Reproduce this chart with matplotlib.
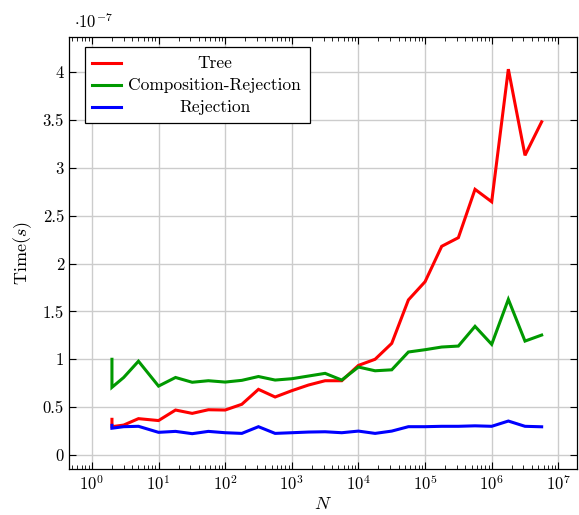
import matplotlib
matplotlib.use("Agg")
import matplotlib.pyplot as plt
import matplotlib.patches as patches
from matplotlib.ticker import (FixedLocator, LogLocator, FuncFormatter,
                               MultipleLocator, NullFormatter)

plt.rcParams['font.family'] = 'serif'
plt.rcParams['font.serif'] = ['cmr10']
plt.rcParams['mathtext.fontset'] = 'cm'
plt.rcParams['axes.formatter.use_mathtext'] = True

# problem size N (two runs at N=2, then 10^(k/4))
n_values = [2, 2, 3, 5, 10, 18, 32, 56, 100, 178, 316, 562, 1000, 1778, 3162, 5623,
            10000, 17783, 31623, 56234, 100000, 177828, 316228, 562341, 1000000,
            1778279, 3162278, 5623413]

# time in units of 1e-7 s
tree = [0.373, 0.296, 0.313, 0.38, 0.36, 0.47, 0.435, 0.473, 0.47, 0.53, 0.686, 0.606,
        0.672, 0.731, 0.776, 0.776, 0.936, 1.0, 1.166, 1.62, 1.81, 2.18, 2.27, 2.775,
        2.645, 4.03, 3.13, 3.48]
comp_rej = [1.0, 0.707, 0.81, 0.98, 0.72, 0.81, 0.76, 0.776, 0.762, 0.78, 0.82, 0.783,
            0.797, 0.825, 0.853, 0.783, 0.919, 0.88, 0.89, 1.076, 1.10, 1.128, 1.138,
            1.344, 1.156, 1.626, 1.19, 1.253]
rejection = [0.31, 0.28, 0.296, 0.30, 0.237, 0.247, 0.223, 0.247, 0.233, 0.226, 0.296,
             0.226, 0.233, 0.24, 0.243, 0.233, 0.25, 0.226, 0.25, 0.296, 0.296, 0.30,
             0.30, 0.305, 0.30, 0.355, 0.30, 0.295]

x_ticks = [1e0, 1e1, 1e2, 1e3, 1e4, 1e5, 1e6, 1e7]

series = [("Tree", tree, "#ff0000"),
          ("Composition-Rejection", comp_rej, "#009900"),
          ("Rejection", rejection, "#0000ff")]

fig = plt.figure(figsize=(5.79, 5.15), dpi=100)
ax = fig.add_axes([0.119, 0.0893, 0.8775, 0.8387])

for nombre, valores, color in series:
    ax.plot(n_values, valores, color=color, linewidth=2.2, solid_joinstyle='miter')

ax.set_xscale('log')
ax.set_xlim(10 ** -0.345, 10 ** 7.28)
ax.set_ylim(-0.146, 4.365)

ax.xaxis.set_major_locator(FixedLocator(x_ticks))
ax.xaxis.set_minor_locator(LogLocator(base=10, subs=range(2, 10), numticks=20))
ax.xaxis.set_minor_formatter(NullFormatter())
ax.yaxis.set_major_locator(MultipleLocator(0.5))
ax.yaxis.set_major_formatter(FuncFormatter(lambda v, p: '%g' % v))

ax.tick_params(which='both', direction='in', top=True, right=True, labelsize=12)
ax.tick_params(which='major', length=5, width=0.8)
ax.tick_params(which='minor', length=3, width=0.6)
ax.grid(True, which='major', color='#cccccc', linewidth=1.0)
ax.set_axisbelow(True)
for s in ax.spines.values():
    s.set_linewidth(0.9)

ax.set_xlabel('$N$', fontsize=13, labelpad=2)
ax.set_ylabel('Time$(s)$', fontsize=13, labelpad=6)
ax.text(0.01, 1.015, r'$\cdot 10^{-7}$', transform=ax.transAxes, fontsize=12,
        ha='left', va='bottom')

# leyenda manual (texto centrado como en pgfplots)
caja = patches.Rectangle((0.0315, 0.801), 0.4425, 0.176, transform=ax.transAxes,
                         facecolor='white', edgecolor='black', linewidth=0.9, zorder=5)
ax.add_patch(caja)
for i, (nombre, valores, color) in enumerate(series):
    yy = 0.940 - i * 0.051
    ax.plot([0.0453, 0.1024], [yy, yy], transform=ax.transAxes, color=color,
            linewidth=2.2, zorder=6)
    ax.text(0.287, yy, nombre, transform=ax.transAxes, ha='center', va='center',
            fontsize=12.5, zorder=6)

fig.savefig('out.png', dpi=100)
